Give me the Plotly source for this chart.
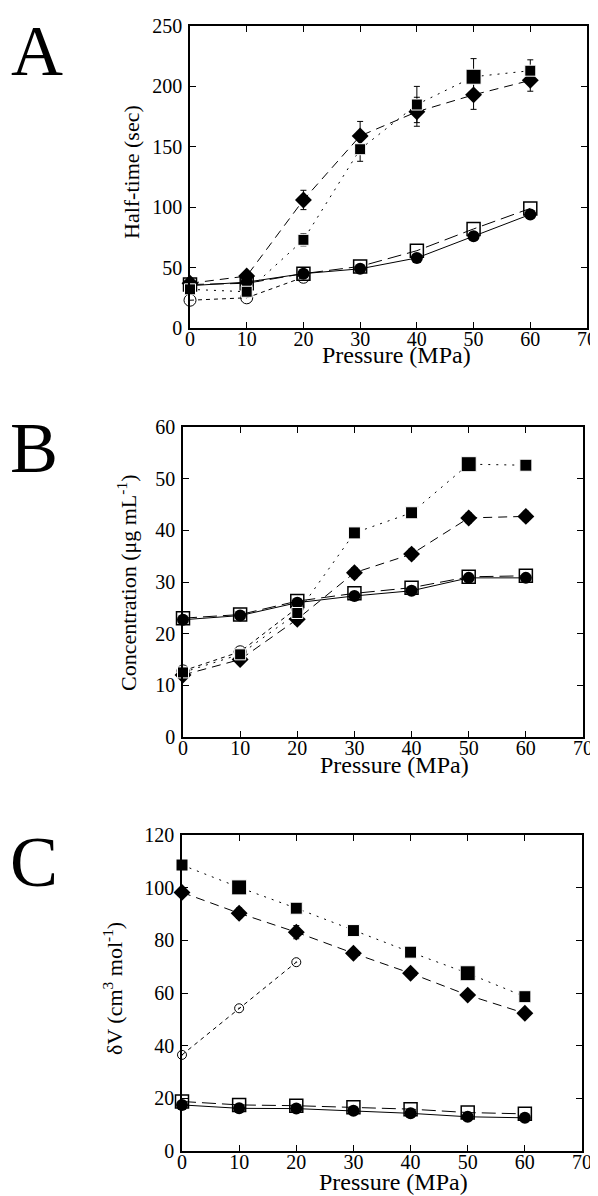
import plotly.graph_objects as go

pressure = [0, 10, 20, 30, 40, 50, 60]
pressure_short = [0, 10, 20]

# Panel A: half-time (sec)
A_sq_filled = [32, 30, 73, 148, 185, 208, 213]
A_sq_filled_err = [3, 3, 5, 10, 15, 15, 9]
A_diamond = [37, 43, 106, 159, 179, 193, 205]
A_diamond_err = [3, 3, 8, 12, 12, 12, 9]
A_circ_open = [23, 25, 42]
A_circ_filled = [35, 38, 45, 49, 58, 76, 94]
A_sq_open = [36, 37, 45, 51, 64, 82, 99]

# Panel B: concentration (ug/mL)
B_sq_filled = [12.5, 16, 24, 39.5, 43.4, 52.8, 52.6]
B_diamond = [12, 15, 22.8, 31.8, 35.4, 42.4, 42.7]
B_diamond_err = [0.8, 0.8, 1, 1, 1, 1, 1]
B_circ_open = [12.8, 16.5, 25]
B_circ_filled = [22.7, 23.5, 26, 27.3, 28.3, 30.8, 30.8]
B_sq_open = [23, 23.7, 26.3, 27.8, 28.9, 31.0, 31.2]

# Panel C: dV (cm3/mol)
C_sq_filled = [108.6, 100.1, 92.2, 83.7, 75.5, 67.5, 58.6]
C_diamond = [98.2, 90.3, 83.1, 75.1, 67.5, 59.2, 52.3]
C_diamond_err = [1, 2, 2.5, 1, 1, 1, 1]
C_circ_open = [36.5, 54.2, 71.7]
C_circ_filled = [17.5, 16.2, 16.1, 15.3, 14.3, 13.0, 12.6]
C_sq_open = [18.8, 17.5, 17.2, 16.6, 15.9, 14.6, 14.1]

FONT = "Liberation Serif"
fig = go.Figure()


def add_panel(n, sqf, sqf_err, dia, dia_err, co, cf, so, sq_sizes, co_symbol, co_size):
    xa = "x" if n == 1 else f"x{n}"
    ya = "y" if n == 1 else f"y{n}"
    common = dict(xaxis=xa, yaxis=ya, mode="lines+markers", showlegend=False, cliponaxis=False)
    fig.add_trace(go.Scatter(x=pressure, y=so, line=dict(color="black", width=1, dash="14px,6px"),
                             marker=dict(symbol="square-open", size=13, color="black", line=dict(width=1.5)),
                             **common))
    fig.add_trace(go.Scatter(x=pressure, y=cf, line=dict(color="black", width=1),
                             marker=dict(symbol="circle", size=12, color="black"), **common))
    fig.add_trace(go.Scatter(x=pressure_short, y=co, line=dict(color="black", width=1, dash="4px,4px"),
                             marker=dict(symbol=co_symbol, size=co_size, color="black", line=dict(width=1)),
                             **common))
    fig.add_trace(go.Scatter(x=pressure, y=dia, line=dict(color="black", width=1, dash="9px,6px"),
                             marker=dict(symbol="diamond", size=13, color="black"),
                             error_y=dict(type="data", array=dia_err, color="black", thickness=1, width=3),
                             **common))
    ey = dict(type="data", array=sqf_err, color="black", thickness=1, width=3) if sqf_err else None
    fig.add_trace(go.Scatter(x=pressure, y=sqf, line=dict(color="black", width=1, dash="2px,6px"),
                             marker=dict(symbol="square", size=sq_sizes, color="black", opacity=1),
                             error_y=ey, **common))


add_panel(1, A_sq_filled, A_sq_filled_err, A_diamond, A_diamond_err, A_circ_open, A_circ_filled, A_sq_open,
          [11, 11, 11, 11, 11, 15, 11], "circle-open", 12)
add_panel(2, B_sq_filled, None, B_diamond, B_diamond_err, B_circ_open, B_circ_filled, B_sq_open,
          [11, 11, 11, 12, 12, 15, 12], "circle-open", 12)
add_panel(3, C_sq_filled, None, C_diamond, C_diamond_err, C_circ_open, C_circ_filled, C_sq_open,
          [12, 15, 12, 12, 12, 15, 12], "circle-open-dot", 9)

# the page body adds an 8 px margin; the figure fills the rest of the window
OFF = 8
W = 598 - OFF
H = 1196 - OFF


def px(x):
    return (x - OFF) / W


def py(y):
    return 1 - (y - OFF) / H


def ydom(top, bot):
    return [py(bot), py(top)]


def xdom(l, r):
    return [px(l), px(r)]


axis_common = dict(showline=True, linecolor="black", linewidth=1.5, mirror="ticks", ticks="inside",
                   ticklen=6, tickwidth=1, tickcolor="black", showgrid=False, zeroline=False,
                   automargin=False,
                   tickfont=dict(family=FONT, size=20, color="black"))

xax = dict(range=[0, 70], dtick=10, ticklabelstandoff=-8, **axis_common)
yax = dict(ticklabelstandoff=2, **axis_common)

fig.update_layout(
    width=W, height=H, margin=dict(l=0, r=0, t=0, b=0),
    paper_bgcolor="white", plot_bgcolor="white",
    font=dict(family=FONT, color="black"),
    xaxis=dict(domain=xdom(190, 587), anchor="y", **xax),
    yaxis=dict(domain=ydom(26, 328), range=[0, 250], dtick=50, anchor="x", **yax),
    xaxis2=dict(domain=xdom(183, 583), anchor="y2", **xax),
    yaxis2=dict(domain=ydom(427, 737), range=[0, 60], dtick=10, anchor="x2", **yax),
    xaxis3=dict(domain=xdom(182, 582), anchor="y3", **xax),
    yaxis3=dict(domain=ydom(835, 1151), range=[0, 120], dtick=20, anchor="x3", **yax),
)

# x titles
for xc, yc in [(396, 355), (394, 765), (393, 1182)]:
    fig.add_annotation(text="Pressure (MPa)", xref="paper", yref="paper", x=px(xc), y=py(yc),
                       xanchor="center", yanchor="middle", showarrow=False,
                       font=dict(family=FONT, size=24, color="black"))

# y titles
for txt, xc, yc in [("Half-time (sec)", 131, 172),
                    ("Concentration (\u03bcg mL<sup>-1</sup>)", 127, 583),
                    ("\u03b4V (cm<sup>3</sup> mol<sup>-1</sup>)", 113, 989)]:
    fig.add_annotation(text=txt, xref="paper", yref="paper", x=px(xc), y=py(yc), textangle=-90,
                       xanchor="center", yanchor="middle", showarrow=False,
                       font=dict(family=FONT, size=22, color="black"))

# panel letters
for letter, xc, ycen in [("A", 37, 51), ("B", 34, 448), ("C", 34, 862)]:
    fig.add_annotation(text=letter, xref="paper", yref="paper", x=px(xc), y=py(ycen),
                       xanchor="center", yanchor="middle", showarrow=False,
                       font=dict(family=FONT, size=72, color="black"))

fig.write_html("out.html")
